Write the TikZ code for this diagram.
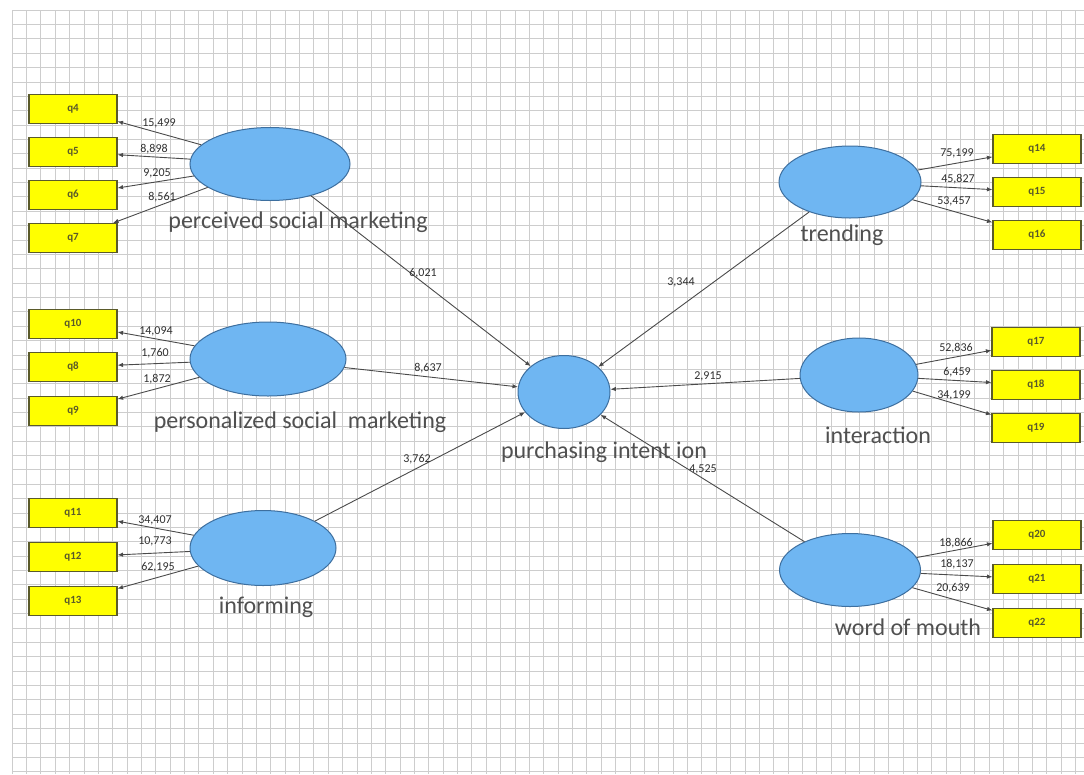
\documentclass[tikz,border=0pt]{standalone}
\usepackage{fontspec}
\setmainfont{Carlito}
\usetikzlibrary{arrows.meta,shapes.geometric}
\definecolor{gridc}{HTML}{CDCDCD}
\definecolor{ellfill}{HTML}{6FB6F2}
\definecolor{elldraw}{HTML}{3D6F9F}
\definecolor{boxfill}{HTML}{FFFF00}
\definecolor{boxdraw}{HTML}{5A5A2A}
\definecolor{linec}{HTML}{4A4A4A}
\definecolor{txtc}{HTML}{505050}
\definecolor{numc}{HTML}{303030}
\begin{document}
\begin{tikzpicture}[x=1pt,y=-1pt,
  lv/.style args={#1x#2}{ellipse, draw=elldraw, line width=1pt, fill=ellfill,
     inner sep=0pt, minimum width=#1pt, minimum height=#2pt},
  ind/.style={rectangle, draw=boxdraw, line width=1.1pt, fill=boxfill,
     inner sep=0pt, minimum width=88pt, minimum height=29pt,
     font=\fontsize{11}{12}\selectfont\bfseries, text=boxdraw},
  num/.style={font=\fontsize{12}{13}\selectfont, text=numc, inner sep=0pt},
  lvlabel/.style={font=\fontsize{24}{26}\selectfont, text=txtc, inner sep=0pt},
  conn/.style={draw=linec, line width=0.9pt, -{Latex[length=5.5pt,width=4.5pt]}}]
\useasboundingbox (0,0) rectangle (1084,774);
\fill[white] (0,0) rectangle (1084,774);
% grid
\foreach \i in {0,...,75} \draw[gridc, line width=0.7pt] ({12+\i*14.37},10) -- ({12+\i*14.37},774);
\foreach \j in {0,...,53} \draw[gridc, line width=0.7pt] (12,{10+\j*14.37}) -- (1084,{10+\j*14.37});

% latent variables
\node[lv=160x73] (psm) at (270,164) {};
\node[lv=156x74] (pers) at (268,359) {};
\node[lv=146x75] (inf) at (263,548) {};
\node[lv=92x73] (pi) at (564,392) {};
\node[lv=142x72] (tr) at (850,182) {};
\node[lv=118x74] (int) at (859,375) {};
\node[lv=141x73] (wom) at (850,570) {};

% latent labels
\node[lvlabel] (lpsm) at (298,222) {perceived social marketing};
\node[lvlabel] (lpers) at (300,422) {personalized social\ \ marketing};
\node[lvlabel] (linf) at (266,607) {informing};
\node[lvlabel] (lpi) at (604,452) {purchasing intent ion};
\node[lvlabel] (ltr) at (842,235) {trending};
\node[lvlabel] (lint) at (878,435) {interaction};
\node[lvlabel] (lwom) at (908,627) {word of mouth};

% indicators left
\node[ind] (q4) at (73,109) {q4};
\node[ind] (q5) at (73,152) {q5};
\node[ind] (q6) at (73,195) {q6};
\node[ind] (q7) at (73,238) {q7};
\node[ind] (q10) at (73,324) {q10};
\node[ind] (q8) at (73,367) {q8};
\node[ind] (q9) at (73,411) {q9};
\node[ind] (q11) at (73,513) {q11};
\node[ind] (q12) at (73,557) {q12};
\node[ind] (q13) at (73,601) {q13};
% indicators right
\node[ind] (q14) at (1037,149) {q14};
\node[ind] (q15) at (1037,192) {q15};
\node[ind] (q16) at (1037,235) {q16};
\node[ind] (q17) at (1036,342) {q17};
\node[ind] (q18) at (1036,385) {q18};
\node[ind] (q19) at (1036,428) {q19};
\node[ind] (q20) at (1037,535) {q20};
\node[ind] (q21) at (1037,579) {q21};
\node[ind] (q22) at (1037,623) {q22};

% outer model connectors
\foreach \a/\b in {psm/q4,psm/q5,psm/q6,psm/q7,pers/q10,pers/q8,pers/q9,
                   inf/q11,inf/q12,inf/q13,tr/q14,tr/q15,tr/q16,
                   int/q17,int/q18,int/q19,wom/q20,wom/q21,wom/q22}
  \draw[conn] (\a) -- (\b);
% inner model connectors
\foreach \a in {psm,pers,inf,tr,int,wom}
  \draw[conn] (\a) -- (pi);

% loadings
\node[num] (n4) at (159,123) {15,499};
\node[num] (n5) at (154,149) {8,898};
\node[num] (n6) at (157,173) {9,205};
\node[num] (n7) at (162,197) {8,561};
\node[num] (n10) at (156,331) {14,094};
\node[num] (n8) at (155,353) {1,760};
\node[num] (n9) at (157,379) {1,872};
\node[num] (n11) at (155,520) {34,407};
\node[num] (n12) at (155,541) {10,773};
\node[num] (n13) at (158,567) {62,195};
\node[num] (n14) at (957,153) {75,199};
\node[num] (n15) at (958,179) {45,827};
\node[num] (n16) at (954,201) {53,457};
\node[num] (n17) at (956,348) {52,836};
\node[num] (n18) at (957,372) {6,459};
\node[num] (n19) at (954,395) {34,199};
\node[num] (n20) at (956,543) {18,866};
\node[num] (n21) at (957,564) {18,137};
\node[num] (n22) at (953,588) {20,639};
% path coefficients
\node[num] (npsm) at (423,273) {6,021};
\node[num] (npers) at (428,368) {8,637};
\node[num] (ninf) at (417,459) {3,762};
\node[num] (ntr) at (681,282) {3,344};
\node[num] (nint) at (708,376) {2,915};
\node[num] (nwom) at (703,469) {4,525};
\end{tikzpicture}
\end{document}
